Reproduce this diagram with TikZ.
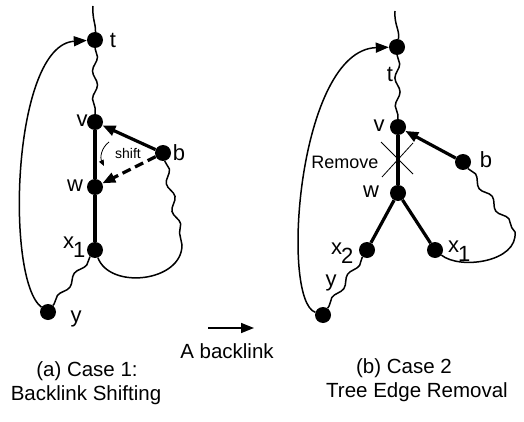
\documentclass[tikz,border=0pt]{standalone}
\usepackage{fontspec}
\setmainfont{Liberation Sans}
\usetikzlibrary{arrows.meta,decorations.pathmorphing}
\begin{document}
\begin{tikzpicture}[x=1pt,y=-1pt,
  dot/.style={circle,fill,inner sep=0pt,minimum size=16pt},
  lbl/.style={inner sep=0pt,font=\fontsize{22}{22}\selectfont},
  captext/.style={inner sep=0pt,font=\fontsize{20.5}{20.5}\selectfont},
  wire/.style={line width=1.5pt},
  tree/.style={line width=3.2pt},
  wavy/.style={decorate,decoration={snake,amplitude=2.5pt,segment length=28pt}},
  tip/.style={-{Triangle[length=13pt,width=10pt]}}]
\useasboundingbox (0,0) rectangle (524,422);

% ---------- (a) ----------
\node[dot] (t1) at (95,40) {};
\node[dot] (v1) at (95,122) {};
\node[dot] (w1) at (95,187) {};
\node[dot] (xa1) at (95,250) {};
\node[dot] (b1) at (163,153) {};
\node[dot] (y1) at (48,312) {};
\coordinate (top1) at (93,6);
\coordinate (c1) at (182,245);
\coordinate (s1) at (109,142);
\coordinate (s2) at (104,166);

\node[lbl] (lt1) at (113,40) {t};
\node[lbl] (lv1) at (82,121) {v};
\node[lbl] (lw1) at (75,186) {w};
\node[lbl,anchor=base west] (lx1) at (63,248) {x\kern-1pt\raisebox{-9pt}{1}};
\node[lbl] (lb1) at (179,153) {b};
\node[lbl] (ly1) at (76,319) {y};
\node[inner sep=0pt,font=\fontsize{14}{14}\selectfont] (sh) at (128,153) {shift};

\draw[wire] (t1) .. controls (96,25) and (92,18) .. (top1);
\draw[wire,wavy] (t1) -- (v1);
\draw[tree] (v1) -- (w1);
\draw[tree] (w1) -- (xa1);
\draw[wire,wavy] (xa1) -- (y1);
\draw[wire] (b1) decorate[decoration={snake,amplitude=3pt,segment length=28pt}] {-- (c1)}
  .. controls (182,282) and (110,290) .. (xa1);
\draw[wire,tip] (y1) .. controls (5,280) and (12,45) .. (t1);
\draw[tree,tip] (b1) -- (v1);
\draw[tree,tip,dash pattern=on 9pt off 5pt] (b1) -- (w1);
\draw[line width=0.8pt,-{Triangle[length=6pt,width=5pt]}] (s1) .. controls (101,148) and (100,158) .. (s2);

% ---------- (b) ----------
\node[dot] (t2) at (397,47) {};
\node[dot] (v2) at (398,127) {};
\node[dot] (w2) at (398,193) {};
\node[dot] (xb2) at (367,250) {};
\node[dot] (xb1) at (435,250) {};
\node[dot] (b2) at (463,162) {};
\node[dot] (y2) at (323,315) {};
\coordinate (top2) at (395,11);
\coordinate (c2) at (515,232);
\coordinate (k1) at (381,142);
\coordinate (k2) at (413,174);
\coordinate (k3) at (382,177);
\coordinate (k4) at (413,143);

\node[lbl] (lt2) at (390,74) {t};
\node[lbl] (lv2) at (379,126) {v};
\node[lbl] (lw2) at (371,192) {w};
\node[lbl,anchor=base west] (lx2) at (331,254) {x\kern-1pt\raisebox{-9pt}{2}};
\node[lbl,anchor=base west] (lxb1) at (448,252) {x\kern-1pt\raisebox{-9pt}{1}};
\node[lbl] (lb2) at (486,160) {b};
\node[lbl] (ly2) at (331,283) {y};
\node[inner sep=0pt,font=\fontsize{18}{18}\selectfont] (rm) at (345,162) {Remove};

\draw[wire] (t2) .. controls (400,30) and (394,25) .. (top2);
\draw[wire,wavy] (t2) -- (v2);
\draw[tree] (v2) -- (w2);
\draw[tree] (w2) -- (xb2);
\draw[tree] (w2) -- (xb1);
\draw[wire,wavy] (xb2) -- (y2);
\draw[wire] (b2) decorate[decoration={snake,amplitude=3pt,segment length=28pt}] {-- (c2)}
  .. controls (518,262) and (460,270) .. (xb1);
\draw[wire,tip] (y2) .. controls (280,300) and (298,50) .. (t2);
\draw[tree,tip] (b2) -- (v2);
\draw[line width=0.8pt] (k1) -- (k2);
\draw[line width=0.8pt] (k3) -- (k4);

% ---------- legend and captions ----------
\coordinate (la) at (208,328);
\coordinate (lb) at (254,328);
\draw[wire,tip] (la) -- (lb);
\node[captext] (leg) at (227,351) {A backlink};
\node[captext] (ca1) at (87,371) {(a) Case 1:};
\node[captext] (ca2) at (86,395) {Backlink Shifting};
\node[captext] (cb1) at (404,368) {(b) Case 2};
\node[captext] (cb2) at (417,392) {Tree Edge Removal};
\end{tikzpicture}
\end{document}
